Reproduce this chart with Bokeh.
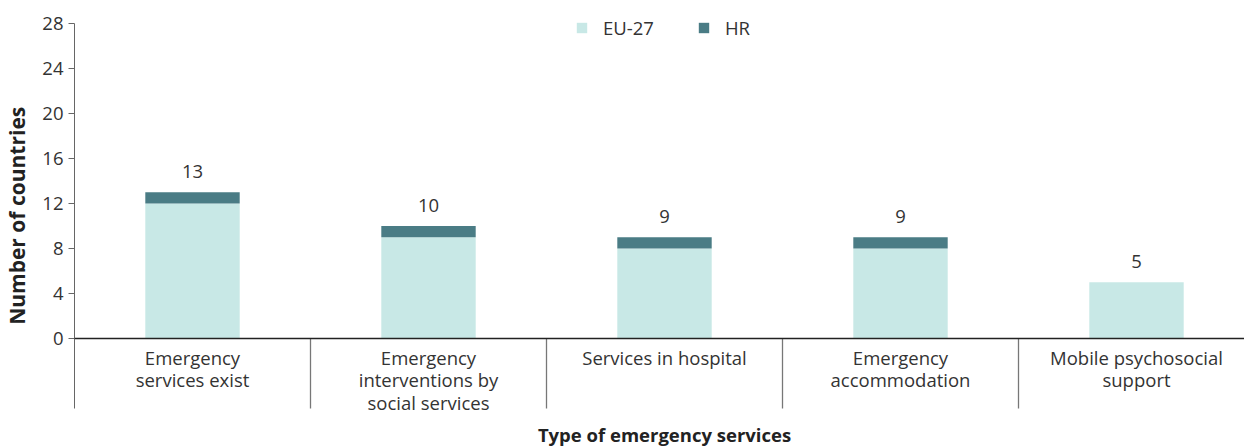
from bokeh.plotting import figure
from bokeh.models import ColumnDataSource, FixedTicker, Span
from bokeh.core.properties import value
from bokeh.embed import file_html
from bokeh.resources import INLINE

categories = [
    "Emergency\nservices exist",
    "Emergency\ninterventions by\nsocial services",
    "Services in hospital",
    "Emergency\naccommodation",
    "Mobile psychosocial\nsupport",
]
eu27 = [12, 9, 8, 8, 5]
hr = [1, 1, 1, 1, 0]
y_ticks = [0, 4, 8, 12, 16, 20, 24, 28]
series_names = ["EU-27", "HR"]
colors = ["#c8e8e6", "#4a7c85"]
x_title = "Type of emergency services"
y_title = "Number of countries"

FONT = "Open Sans"
TXT = "#333333"
FS = "18.5px"

xs = list(range(len(categories)))
totals = [a + b for a, b in zip(eu27, hr)]
src = ColumnDataSource(dict(x=xs, eu=eu27, hr=hr, total=totals,
                            label=[str(t) for t in totals], cat=categories))

# geometry (pixels)
W, H = 1244, 447
LEFT = 74
Y0_PX, Y28_PX = 338, 23
PX_PER_UNIT = (Y0_PX - Y28_PX) / 28.0
CAT_PX = 236.0
frame_w = W - LEFT
frame_h = H
YTOP_TICK = 28
YMAX = YTOP_TICK + Y28_PX / PX_PER_UNIT
YMIN = -(H - Y0_PX) / PX_PER_UNIT
SEP_BOTTOM = -(408 - Y0_PX) / PX_PER_UNIT
TITLE_Y = -(434 - Y0_PX) / PX_PER_UNIT
XMIN = -0.5
XMAX = XMIN + frame_w / CAT_PX

p = figure(width=W, height=H, x_range=(XMIN, XMAX), y_range=(YMIN, YMAX),
           output_backend="svg", toolbar_location=None,
           min_border_left=LEFT, min_border_right=0, min_border_top=0, min_border_bottom=0)

p.vbar_stack(["eu", "hr"], x="x", width=0.4, source=src, color=colors,
             line_color=None, legend_label=series_names)

# x baseline
p.add_layout(Span(location=0, dimension="width", line_color="#222222", line_width=1.3))

# category separators
seps = [i + 0.5 for i in xs[:-1]]
p.segment(x0=seps, y0=[0] * len(seps), x1=seps, y1=[SEP_BOTTOM] * len(seps),
          line_color="#777777", line_width=1.3)

# category labels
p.text(x="x", y=0, text="cat", source=src, text_align="center", text_baseline="top",
       y_offset=6, text_font=value(FONT), text_font_size=FS, text_color=TXT,
       text_line_height=0.9)

# total labels
p.text(x="x", y="total", text="label", source=src, text_align="center",
       text_baseline="alphabetic", y_offset=-21, text_font=value(FONT),
       text_font_size=FS, text_color=TXT)

# x axis title
p.text(x=[(len(xs) - 1) / 2], y=[TITLE_Y], text=[x_title],
       text_align="center", text_baseline="middle", text_font=value(FONT),
       text_font_size="18.5px", text_font_style="bold", text_color="#222222")

p.xaxis.visible = False
p.xgrid.visible = False
p.ygrid.visible = False
p.outline_line_color = None

ax = p.yaxis[0]
ax.ticker = FixedTicker(ticks=y_ticks)
ax.bounds = (SEP_BOTTOM, YTOP_TICK)
ax.axis_label = "\u00a0\u00a0\u00a0" + y_title
ax.axis_label_text_font = FONT
ax.axis_label_text_font_style = "bold"
ax.axis_label_text_font_size = "21px"
ax.axis_label_text_color = "#222222"
ax.axis_label_standoff = 8
ax.major_label_text_font = FONT
ax.major_label_text_font_size = FS
ax.major_label_text_color = TXT
ax.major_tick_out = 6
ax.major_tick_in = 0
ax.minor_tick_line_color = None
ax.axis_line_color = "#666666"
ax.major_tick_line_color = "#666666"
ax.major_label_standoff = 5

lg = p.legend[0]
lg.location = (501, frame_h - 40)
lg.orientation = "horizontal"
lg.border_line_color = None
lg.background_fill_alpha = 0
lg.glyph_width = 13
lg.glyph_height = 13
lg.label_text_font = FONT
lg.label_text_font_size = FS
lg.label_text_color = TXT
lg.label_standoff = 15
lg.spacing = 43
lg.padding = 0
lg.margin = 0

open("out.html", "w").write(file_html(p, INLINE))
